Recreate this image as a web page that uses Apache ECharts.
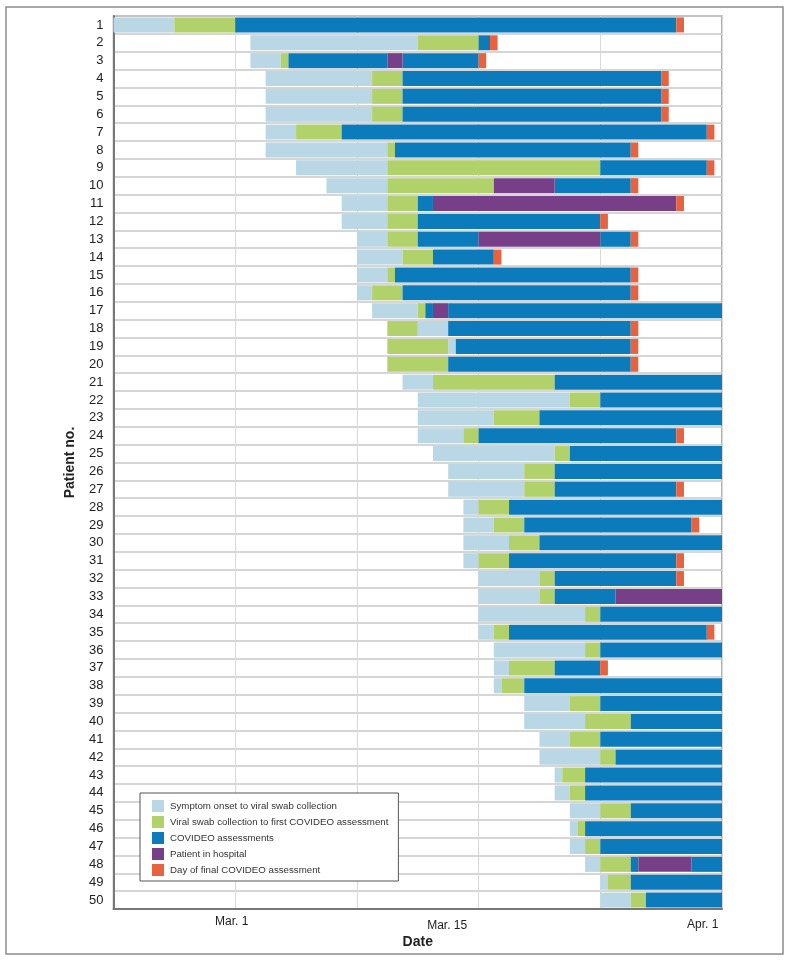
<!DOCTYPE html>
<html>
<head>
<meta charset="utf-8">
<script src="https://cdn.jsdelivr.net/npm/echarts@6/dist/echarts.min.js"></script>
<style>
html,body{margin:0;padding:0;background:#fff;}
#chart{width:791px;height:962px;}
</style>
</head>
<body>
<div id="chart"></div>
<script>
// x values are days counted from Feb. 22, 2020 (day 8 = Mar. 1, day 22 = Mar. 15, day 39 = Apr. 1)
const patients = Array.from({length: 50}, (_, i) => String(i + 1));
const tickDays = [8, 22, 39];
const tickLabels = ['Mar. 1', 'Mar. 15', 'Apr. 1'];
const seriesNames = [
  'Symptom onset to viral swab collection',
  'Viral swab collection to first COVIDEO assessment',
  'COVIDEO assessments',
  'Patient in hospital',
  'Day of final COVIDEO assessment'
];

// [patient, startDay, endDay]
const symptomToSwab = [
  [1,0,4],[2,9,20],[3,9,11],[4,10,17],[5,10,17],[6,10,17],[7,10,12],[8,10,18],[9,12,18],[10,14,18],
  [11,15,18],[12,15,18],[13,16,18],[14,16,19],[15,16,18],[16,16,17],[17,17,20],[18,20,22],[19,22,22.5],
  [21,19,21],[22,20,30],[23,20,25],[24,20,23],[25,21,29],[26,22,27],[27,22,27],[28,23,24],[29,23,25],[30,23,26],
  [31,23,24],[32,24,28],[33,24,28],[34,24,31],[35,24,25],[36,25,31],[37,25,26],[38,25,25.5],[39,27,30],[40,27,31],
  [41,28,30],[42,28,32],[43,29,29.5],[44,29,30],[45,30,32],[46,30,30.5],[47,30,31],[48,31,32],[49,32,32.5],[50,32,34]
];
const swabToFirst = [
  [1,4,8],[2,20,24],[3,11,11.5],[4,17,19],[5,17,19],[6,17,19],[7,12,15],[8,18,18.5],[9,18,32],[10,18,25],
  [11,18,20],[12,18,20],[13,18,20],[14,19,21],[15,18,18.5],[16,17,19],[17,20,20.5],[18,18,20],[19,18,22],[20,18,22],
  [21,21,29],[22,30,32],[23,25,28],[24,23,24],[25,29,30],[26,27,29],[27,27,29],[28,24,26],[29,25,27],[30,26,28],
  [31,24,26],[32,28,29],[33,28,29],[34,31,32],[35,25,26],[36,31,32],[37,26,29],[38,25.5,27],[39,30,32],[40,31,34],
  [41,30,32],[42,32,33],[43,29.5,31],[44,30,31],[45,32,34],[46,30.5,31],[47,31,32],[48,32,34],[49,32.5,34],[50,34,35]
];
const assessments = [
  [1,8,37],[2,24,24.75],[3,11.5,18],[3,19,24],[4,19,36],[5,19,36],[6,19,36],[7,15,39],[8,18.5,34],[9,32,39],[10,29,34],
  [11,20,21],[12,20,32],[13,20,24],[13,32,34],[14,21,25],[15,18.5,34],[16,19,34],[17,20.5,21],[17,22,40],[18,22,34],
  [19,22.5,34],[20,22,34],[21,29,40],[22,32,40],[23,28,40],[24,24,37],[25,30,40],[26,29,40],[27,29,37],[28,26,40],
  [29,27,38],[30,28,40],[31,26,37],[32,29,37],[33,29,33],[34,32,40],[35,26,39],[36,32,40],[37,29,32],[38,27,40],
  [39,32,40],[40,34,40],[41,32,40],[42,33,40],[43,31,40],[44,31,40],[45,34,40],[46,31,40],[47,32,40],
  [48,34,34.5],[48,38,40],[49,34,40],[50,35,40]
];
const inHospital = [
  [3,18,19],[10,25,29],[11,21,37],[13,24,32],[17,21,22],[33,33,40],[48,34.5,38]
];
const finalAssessment = [
  [1,37,37.5],[2,24.75,25.25],[3,24,24.5],[4,36,36.5],[5,36,36.5],[6,36,36.5],[7,39,39.5],[8,34,34.5],[9,39,39.5],
  [10,34,34.5],[11,37,37.5],[12,32,32.5],[13,34,34.5],[14,25,25.5],[15,34,34.5],[16,34,34.5],[18,34,34.5],
  [19,34,34.5],[20,34,34.5],[24,37,37.5],[27,37,37.5],[29,38,38.5],[31,37,37.5],[32,37,37.5],[35,39,39.5],[37,32,32.5]
];

const colors = ['#b9d7e4', '#b1d16b', '#0b7bbb', '#763f88', '#e9623f'];
const segSets = [symptomToSwab, swabToFirst, assessments, inHospital, finalAssessment];

function renderItem(params, api) {
  const row = api.value(0);
  const a = api.coord([api.value(1), row]);
  const b = api.coord([api.value(2), row]);
  const h = api.size([0, 1])[1] * 0.84;
  return {
    type: 'rect',
    shape: {x: a[0], y: a[1] - h / 2, width: b[0] - a[0], height: h},
    style: {fill: api.visual('color')}
  };
}

const chart = echarts.init(document.getElementById('chart'), null, {renderer: 'canvas'});
const font = '"Liberation Sans", Arial, Helvetica, sans-serif';
const labelStyles = ['t0', 't1', 't2'];

chart.setOption({
  animation: false,
  color: colors,
  textStyle: {fontFamily: font},
  graphic: [{
    type: 'rect',
    shape: {x: 6, y: 7, width: 777, height: 947},
    style: {fill: null, stroke: '#8c8c8c', lineWidth: 1.5},
    z: 0
  }],
  grid: {
    left: 113.5, right: 69, top: 16, bottom: 53,
    show: true, borderColor: '#999', borderWidth: 1.5, backgroundColor: 'transparent'
  },
  legend: {
    orient: 'vertical',
    left: 140, top: 793,
    padding: [7, 10, 5, 12],
    itemWidth: 12, itemHeight: 12, itemGap: 4,
    icon: 'rect',
    borderColor: '#555', borderWidth: 1, backgroundColor: '#fff',
    textStyle: {fontSize: 9.7, color: '#333', fontFamily: font, padding: [0, 0, 0, 1]},
    data: seriesNames,
    z: 10
  },
  xAxis: [{
    type: 'value', min: 0, max: 40, interval: 8,
    position: 'bottom',
    name: 'Date', nameLocation: 'middle', nameGap: 26,
    nameTextStyle: {fontSize: 14, fontWeight: 'bold', color: '#222', fontFamily: font},
    axisLine: {show: true, lineStyle: {color: '#777', width: 2}},
    axisTick: {show: false},
    axisLabel: {show: false},
    splitLine: {show: true, lineStyle: {color: '#d9d9d9', width: 1}}
  }, {
    type: 'value', min: 0, max: 40, interval: 1,
    position: 'bottom',
    axisLine: {show: false}, axisTick: {show: false}, splitLine: {show: false},
    axisLabel: {
      show: true, margin: 7, fontSize: 12, color: '#222', fontFamily: font,
      formatter: v => { const i = tickDays.indexOf(v); return i >= 0 ? '{' + labelStyles[i] + '|' + tickLabels[i] + '}' : ''; },
      rich: {
        t0: {fontSize: 12, color: '#222', fontFamily: font, padding: [0, 7, 0, 0]},
        t1: {fontSize: 12, color: '#222', fontFamily: font, padding: [4, 2, 0, 0]},
        t2: {fontSize: 12, color: '#222', fontFamily: font, padding: [3, 8, 0, 0]}
      }
    }
  }],
  yAxis: {
    type: 'category', data: patients, inverse: true,
    name: 'Patient no.', nameLocation: 'middle', nameGap: 36, nameRotate: 90,
    nameTextStyle: {fontSize: 14, fontWeight: 'bold', color: '#222', fontFamily: font},
    axisLine: {show: true, lineStyle: {color: '#777', width: 2}},
    axisTick: {show: false},
    axisLabel: {fontSize: 13, color: '#222', margin: 10, fontFamily: font},
    splitLine: {show: true, lineStyle: {color: '#c8c8c8', width: 1.5}}
  },
  series: segSets.map((set, k) => ({
    type: 'custom',
    name: seriesNames[k],
    xAxisIndex: 0,
    renderItem: renderItem,
    itemStyle: {color: colors[k]},
    encode: {x: [1, 2], y: 0},
    data: set.map(d => [d[0] - 1, d[1], d[2]]),
    z: 2 + k
  }))
});
</script>
</body>
</html>
